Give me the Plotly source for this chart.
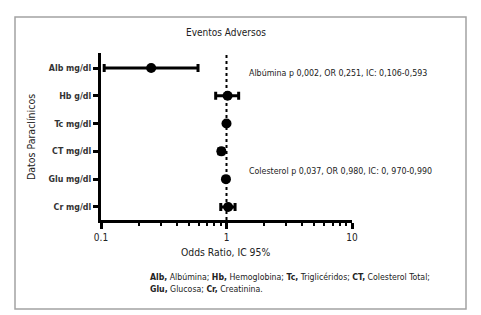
import plotly.graph_objects as go

# Data
categories = ["Alb mg/dl", "Hb g/dl", "Tc mg/dl", "CT mg/dl", "Glu mg/dl", "Cr mg/dl"]
odds_ratio = [0.251, 1.02, 1.00, 0.91, 0.99, 1.03]
ci_low = [0.106, 0.82, 0.99, 0.87, 0.98, 0.90]
ci_high = [0.593, 1.25, 1.01, 0.95, 1.00, 1.17]
x_ticks = [0.1, 1, 10]
x_minor = [0.2, 0.3, 0.4, 0.5, 0.6, 0.7, 0.8, 0.9, 2, 3, 4, 5, 6, 7, 8, 9]

ypos = list(range(len(categories) - 1, -1, -1))
err_plus = [h - o for h, o in zip(ci_high, odds_ratio)]
err_minus = [o - l for o, l in zip(odds_ratio, ci_low)]

FONT = "Liberation Sans Narrow, DejaVu Sans Condensed, Arial Narrow, sans-serif"
OFF = 8  # default page body margin
W, H = 481 - OFF, 315 - OFF
L, R, T, B = 101, 352, 53, 220

fig = go.Figure()
fig.add_trace(go.Scatter(
    x=odds_ratio, y=ypos, mode="markers",
    marker=dict(symbol="circle", size=10, color="black"),
    error_x=dict(type="data", symmetric=False, array=err_plus, arrayminus=err_minus,
                 color="black", thickness=3, width=4),
    showlegend=False, hoverinfo="skip",
))

fig.add_shape(type="line", xref="x", yref="paper", x0=1, x1=1, y0=0, y1=1,
              line=dict(color="black", width=2, dash="dot"), layer="below")


def px(xp):
    return (xp - L) / (R - L)


def py(yp):
    return (B - yp) / (B - T)


# outer frame
fig.add_shape(type="rect", xref="paper", yref="paper",
              x0=px(15), x1=px(466), y0=py(309), y1=py(17),
              line=dict(color="#a3a3a3", width=1.5))

ann = [
    dict(text="Eventos Adversos", x=px(226), y=py(33), size=10, xanchor="center"),
    dict(text="Albúmina p 0,002, OR 0,251, IC: 0,106-0,593", x=px(247), y=py(73), size=8.8, xanchor="left"),
    dict(text="Colesterol p 0,037, OR 0,980, IC: 0, 970-0,990", x=px(247), y=py(171), size=8.8, xanchor="left"),
    dict(text="Odds Ratio, IC 95%", x=px(225), y=py(252), size=10.3, xanchor="center"),
    dict(text="<b>Alb,</b> Albúmina; <b>Hb,</b> Hemoglobina; <b>Tc,</b> Triglicéridos; <b>CT,</b> Colesterol Total;",
         x=px(148), y=py(277), size=8.7, xanchor="left"),
    dict(text="<b>Glu,</b> Glucosa; <b>Cr,</b> Creatinina.", x=px(148), y=py(289), size=8.7, xanchor="left"),
]
for a in ann:
    fig.add_annotation(text=a["text"], x=a["x"], y=a["y"], xref="paper", yref="paper",
                       xanchor=a["xanchor"], yanchor="middle", showarrow=False,
                       font=dict(family=FONT, size=a["size"], color="#222222"))

fig.add_annotation(text="Datos Paraclínicos", x=px(31), y=py(137), xref="paper", yref="paper",
                   textangle=-90, showarrow=False, xanchor="center", yanchor="middle",
                   font=dict(family=FONT, size=10.5, color="#222222"))

fig.update_xaxes(
    type="log", range=[-1, 1], tickvals=x_ticks, ticktext=[str(v) for v in x_ticks],
    ticks="outside", ticklen=6, tickwidth=2.5, tickcolor="black",
    showline=True, linecolor="black", linewidth=3, showgrid=False, zeroline=False,
    tickfont=dict(family=FONT, size=10, color="#222222"),
    minor=dict(tickvals=x_minor, ticks="outside", ticklen=3, tickwidth=2, tickcolor="black", showgrid=False),
)
fig.update_yaxes(
    range=[-0.47, 5.54], tickvals=ypos, ticktext=["<b>%s</b>" % c for c in categories],
    ticks="outside", ticklen=5, tickwidth=2.5, tickcolor="black",
    showline=True, linecolor="black", linewidth=3, showgrid=False, zeroline=False,
    tickfont=dict(family=FONT, size=8.8, color="#333333"),
)
fig.update_layout(
    width=W, height=H, margin=dict(l=L - OFF, r=481 - R, t=T - OFF, b=315 - B),
    plot_bgcolor="white", paper_bgcolor="white",
)
fig.write_html("out.html")
